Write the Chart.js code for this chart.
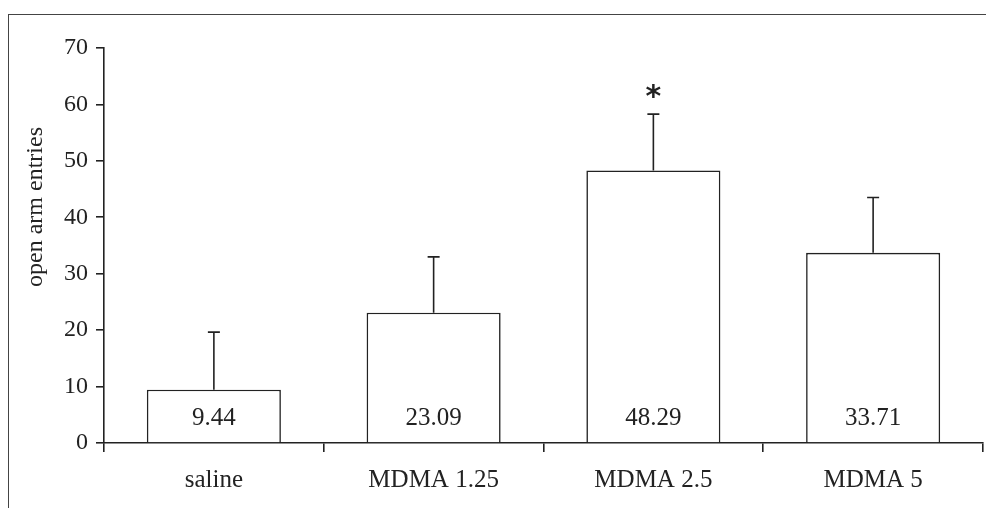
<!DOCTYPE html>
<html>
<head>
<meta charset="utf-8">
<script src="https://cdn.jsdelivr.net/npm/chart.js@4"></script>
<style>
  body { margin: 0; background: #fff; }
  #wrap { position: relative; width: 986px; height: 508px; }
  #frame { position: absolute; left: 8px; top: 14px; right: -2px; bottom: -2px; border-top: 1.5px solid #444; border-left: 1.5px solid #444; }
  canvas { position: absolute; left: 0; top: 0; }
</style>
</head>
<body>
<div id="wrap">
  <div id="frame"></div>
  <canvas id="armChart" width="986" height="508"></canvas>
</div>
<script>
// groups and values
const groups = ['saline', 'MDMA 1.25', 'MDMA 2.5', 'MDMA 5'];
const means = [9.44, 23.09, 48.29, 33.71];
const sem = [10.2, 9.9, 10.0, 9.8];
const marks = ['', '', '*', ''];
const yTicks = [0, 10, 20, 30, 40, 50, 60, 70];

const serif = '"Liberation Serif", "DejaVu Serif", serif';
const ink = '#222';

// error bars, value labels, significance star and y title
const extras = {
    id: 'extras',
    afterDatasetsDraw(chart) {
        const { ctx, scales: { y } } = chart;
        const bars = chart.getDatasetMeta(0).data;
        const base = y.getPixelForValue(0);
        ctx.save();
        ctx.strokeStyle = ink;
        ctx.lineWidth = 1.6;
        bars.forEach((bar, i) => {
            const top = y.getPixelForValue(means[i] + sem[i]);
            ctx.beginPath();
            ctx.moveTo(bar.x, bar.y);
            ctx.lineTo(bar.x, top);
            ctx.moveTo(bar.x - 6, top);
            ctx.lineTo(bar.x + 6, top);
            ctx.stroke();

            ctx.fillStyle = ink;
            ctx.font = '25px ' + serif;
            ctx.textAlign = 'center';
            ctx.textBaseline = 'middle';
            ctx.fillText(means[i].toFixed(2), bar.x, base - 25);

            if (marks[i]) {
                ctx.font = 'bold 30px "DejaVu Sans", sans-serif';
                ctx.fillText(marks[i], bar.x, top - 16);
            }
        });

        ctx.translate(36, 207);
        ctx.rotate(-Math.PI / 2);
        ctx.font = '24px ' + serif;
        ctx.fillText('open arm entries', 0, 0);
        ctx.restore();
    }
};

const ctx = document.getElementById('armChart').getContext('2d');
new Chart(ctx, {
    type: 'bar',
    data: {
        labels: groups,
        datasets: [{
            data: means,
            backgroundColor: '#fff',
            borderColor: '#222',
            borderWidth: 1.6,
            barPercentage: 0.61,
            categoryPercentage: 1
        }]
    },
    options: {
        responsive: false,
        animation: false,
        layout: { padding: { top: 48, right: 3, left: 0, bottom: 0 } },
        plugins: { legend: { display: false }, tooltip: { enabled: false } },
        scales: {
            x: {
                offset: true,
                grid: { offset: true, drawOnChartArea: false, tickLength: 9, color: '#222', lineWidth: 1.6 },
                border: { color: '#222', width: 1.6 },
                ticks: { color: ink, font: { family: serif, size: 25 }, padding: 13 },
                afterFit(scale) { scale.height = 65; }
            },
            y: {
                min: 0,
                max: 70,
                afterBuildTicks(scale) { scale.ticks = yTicks.map(v => ({ value: v })); },
                grid: { drawOnChartArea: false, tickLength: 8, color: '#222', lineWidth: 1.6 },
                border: { color: '#222', width: 1.6 },
                ticks: { color: ink, font: { family: serif, size: 24 }, padding: 8 },
                afterFit(scale) { scale.width = 104; }
            }
        }
    },
    plugins: [extras]
});
</script>
</body>
</html>
